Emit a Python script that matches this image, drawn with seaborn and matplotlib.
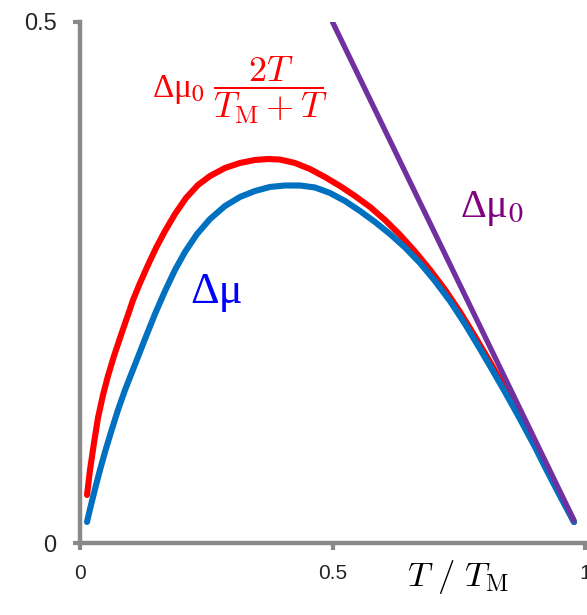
import matplotlib
matplotlib.use("Agg")
import matplotlib.pyplot as plt
import pandas as pd
import seaborn as sns

# Reduced temperature T / T_M and the driving-force curves
t_approx = [0.0139, 0.0198, 0.0277, 0.0356, 0.0455, 0.0554, 0.0673, 0.0812,
            0.0970, 0.1050, 0.1188, 0.1347, 0.1505, 0.1683, 0.1881, 0.2099,
            0.2337, 0.2574, 0.2871, 0.3168, 0.3465, 0.3723, 0.3960, 0.4257,
            0.4554, 0.4851, 0.5149, 0.5446, 0.5743, 0.6040, 0.6337, 0.6634,
            0.6931, 0.7228, 0.7525, 0.7822, 0.8119, 0.8416, 0.8713, 0.9010,
            0.9248, 0.9505, 0.9782]
mu_approx = [0.0461, 0.0701, 0.0960, 0.1200, 0.1420, 0.1603, 0.1795, 0.1996,
             0.2217, 0.2332, 0.2495, 0.2668, 0.2831, 0.2994, 0.3157, 0.3311,
             0.3436, 0.3522, 0.3599, 0.3647, 0.3676, 0.3685, 0.3680, 0.3647,
             0.3589, 0.3512, 0.3426, 0.3330, 0.3225, 0.3100, 0.2957, 0.2797,
             0.2622, 0.2431, 0.2217, 0.1982, 0.1737, 0.1484, 0.1222, 0.0951,
             0.0716, 0.0466, 0.0202]

t_exact = [0.0139, 0.0198, 0.0297, 0.0396, 0.0495, 0.0614, 0.0752, 0.0891,
           0.1109, 0.1287, 0.1485, 0.1683, 0.1881, 0.2079, 0.2317, 0.2574,
           0.2871, 0.3168, 0.3465, 0.3762, 0.4059, 0.4356, 0.4653, 0.4950,
           0.5248, 0.5545, 0.5842, 0.6139, 0.6436, 0.6733, 0.7030, 0.7327,
           0.7624, 0.7921, 0.8119, 0.8416, 0.8713, 0.9010, 0.9248, 0.9505,
           0.9782]
mu_exact = [0.0202, 0.0326, 0.0518, 0.0701, 0.0873, 0.1065, 0.1276, 0.1468,
            0.1737, 0.1958, 0.2198, 0.2418, 0.2620, 0.2793, 0.2965, 0.3109,
            0.3234, 0.3321, 0.3378, 0.3417, 0.3431, 0.3431, 0.3412, 0.3359,
            0.3282, 0.3186, 0.3081, 0.2965, 0.2836, 0.2687, 0.2514, 0.2322,
            0.2102, 0.1862, 0.1699, 0.1449, 0.1190, 0.0921, 0.0691, 0.0451,
            0.0202]

t_linear = [0.50, 0.978]
mu_linear = [0.50, 0.022]

x_ticks = [0, 0.5, 1]
x_tick_labels = ["0", "0.5", "1"]
y_ticks = [0, 0.5]
y_tick_labels = ["0", "0.5"]

RED = "#FF0000"
BLUE = "#0070C0"
PURPLE = "#7030A0"
AXIS_GREY = "#898989"

sns.set_style("ticks")
plt.rcParams["font.family"] = ["Liberation Sans", "DejaVu Sans"]

W, H = 587, 615
fig = plt.figure(figsize=(W / 100, H / 100), dpi=100)
ax = fig.add_axes([80 / W, 72 / H, 505 / W, 521 / H])

approx_df = pd.DataFrame({"t": t_approx, "mu": mu_approx})
exact_df = pd.DataFrame({"t": t_exact, "mu": mu_exact})
linear_df = pd.DataFrame({"t": t_linear, "mu": mu_linear})

sns.lineplot(data=approx_df, x="t", y="mu", ax=ax, color=RED, linewidth=4.4,
             sort=False, estimator=None, solid_capstyle="round",
             solid_joinstyle="round")
sns.lineplot(data=exact_df, x="t", y="mu", ax=ax, color=BLUE, linewidth=4.4,
             sort=False, estimator=None, solid_capstyle="round",
             solid_joinstyle="round")
sns.lineplot(data=linear_df, x="t", y="mu", ax=ax, color=PURPLE, linewidth=3.8,
             sort=False, estimator=None, solid_capstyle="round")

ax.set_xlim(0, 1)
ax.set_ylim(0, 0.5)
ax.set_xlabel("")
ax.set_ylabel("")

for side in ("top", "right"):
    ax.spines[side].set_visible(False)
for side in ("left", "bottom"):
    ax.spines[side].set_color(AXIS_GREY)
    ax.spines[side].set_linewidth(3.2)

ax.set_xticks(x_ticks)
ax.set_xticklabels(x_tick_labels)
ax.set_yticks(y_ticks)
ax.set_yticklabels(y_tick_labels)
ax.tick_params(direction="out", length=5, width=3, color=AXIS_GREY)
ax.tick_params(axis="x", labelsize=15, pad=10)
ax.tick_params(axis="y", labelsize=17, pad=12)


def px(x, y):
    """Figure-fraction position from pixel offsets (origin top-left)."""
    return x / W, 1 - y / H


# Curve annotations
fig.text(*px(152, 97), "Δμ$_0$", color=RED, fontsize=24,
         family="Liberation Serif", math_fontfamily="stix",
         ha="left", va="baseline")
fig.text(*px(213, 90), r"$\dfrac{2T}{T_{\mathrm{M}}+T}$", color=RED,
         fontsize=26, math_fontfamily="cm", ha="left", va="center")
fig.text(*px(190, 303), "Δμ", color="#0000FF", fontsize=32,
         family="Liberation Serif", ha="left", va="baseline")
fig.text(*px(460, 217), "Δμ$_0$", color="#800080", fontsize=29,
         family="Liberation Serif", math_fontfamily="stix",
         ha="left", va="baseline")

# Axis title
fig.text(*px(458, 586), r"$T\ /\ T_{\mathrm{M}}$", color="black",
         fontsize=25, math_fontfamily="cm", ha="center", va="baseline")

fig.savefig("out.png", dpi=100)
